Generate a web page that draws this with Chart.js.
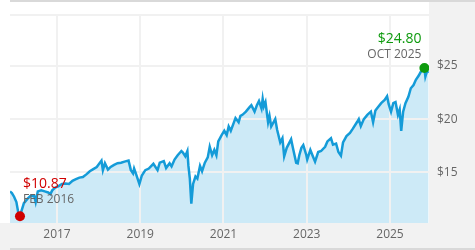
<!DOCTYPE html>
<html>
<head>
<meta charset="utf-8">
<script src="https://cdn.jsdelivr.net/npm/chart.js@4.4.1/dist/chart.umd.min.js"></script>
<style>
  html, body { margin: 0; padding: 0; background: #fff; }
  canvas { display: block; }
</style>
</head>
<body>
<canvas id="priceChart" width="475" height="250"></canvas>
<script>
const dates = [
    '2015-11-15', '2015-12-01', '2015-12-20', '2016-01-10', '2016-01-25', '2016-02-11', '2016-02-25',
    '2016-03-15', '2016-04-15', '2016-05-15', '2016-06-15', '2016-06-27', '2016-07-15', '2016-08-15',
    '2016-09-15', '2016-10-15', '2016-11-04', '2016-11-20', '2016-12-15',
    '2017-01-15', '2017-02-15', '2017-03-15', '2017-04-15', '2017-05-15', '2017-06-15', '2017-07-15',
    '2017-08-15', '2017-09-15', '2017-10-15', '2017-11-15', '2017-12-15',
    '2018-01-26', '2018-02-08', '2018-02-26', '2018-03-22', '2018-04-15', '2018-05-15', '2018-06-15',
    '2018-07-15', '2018-08-15', '2018-09-20', '2018-10-10', '2018-10-29', '2018-11-08', '2018-11-23',
    '2018-12-24',
    '2019-01-15', '2019-02-15', '2019-03-15', '2019-04-25', '2019-05-31', '2019-06-20', '2019-07-25',
    '2019-08-15', '2019-09-15', '2019-10-02', '2019-10-28', '2019-11-25', '2019-12-27',
    '2020-01-10', '2020-01-31', '2020-02-19', '2020-02-28', '2020-03-10', '2020-03-23', '2020-04-08',
    '2020-04-29', '2020-05-15', '2020-06-08', '2020-06-26', '2020-07-20', '2020-08-15', '2020-09-02',
    '2020-09-23', '2020-10-12', '2020-10-30', '2020-11-16', '2020-12-15',
    '2021-01-08', '2021-01-29', '2021-02-16', '2021-03-04', '2021-03-25', '2021-04-15', '2021-05-12',
    '2021-05-28', '2021-06-15', '2021-07-15', '2021-08-15', '2021-09-02', '2021-09-30', '2021-10-20',
    '2021-11-08', '2021-11-30', '2021-12-10', '2021-12-20',
    '2022-01-04', '2022-01-27', '2022-02-09', '2022-02-24', '2022-03-29', '2022-04-15', '2022-05-12',
    '2022-05-31', '2022-06-16', '2022-07-08', '2022-08-16', '2022-09-01', '2022-09-30', '2022-10-13',
    '2022-10-27', '2022-11-15', '2022-12-01', '2022-12-28',
    '2023-01-05', '2023-02-02', '2023-02-24', '2023-03-13', '2023-04-10', '2023-05-05', '2023-06-10',
    '2023-06-30', '2023-07-31', '2023-08-18', '2023-09-15', '2023-10-05', '2023-10-27', '2023-11-15',
    '2023-12-15',
    '2024-01-15', '2024-02-10', '2024-03-15', '2024-04-01', '2024-04-19', '2024-05-15', '2024-06-15',
    '2024-07-16', '2024-08-05', '2024-08-25', '2024-09-15', '2024-10-15', '2024-11-15', '2024-12-06',
    '2024-12-20',
    '2025-01-10', '2025-01-30', '2025-02-19', '2025-03-10', '2025-03-25', '2025-04-08', '2025-04-25',
    '2025-05-15', '2025-06-10', '2025-07-01', '2025-07-25', '2025-08-15', '2025-09-10', '2025-09-25',
    '2025-10-29', '2025-11-07', '2025-11-18', '2025-12-05'
];

const prices = [
    13.19, 13.05, 12.70, 12.20, 11.30, 10.87, 11.40,
    12.10, 12.50, 12.80, 12.75, 12.20, 13.20, 13.30,
    13.20, 13.10, 12.95, 13.30, 13.55,
    13.70, 13.90, 13.95, 13.90, 14.20, 14.35, 14.50,
    14.55, 14.80, 15.10, 15.30, 15.50,
    16.10, 15.20, 15.85, 15.25, 15.50, 15.70, 15.85,
    15.90, 16.00, 16.10, 15.20, 14.90, 15.35, 14.90,
    13.90,
    14.70, 15.20, 15.35, 15.80, 15.20, 15.90, 16.05,
    15.40, 15.85, 15.55, 16.20, 16.60, 17.00,
    16.85, 16.50, 17.00, 15.60, 14.40, 12.05, 13.90,
    14.60, 14.40, 15.60, 15.10, 15.90, 16.40, 17.40,
    16.60, 17.10, 16.60, 17.90, 18.50,
    18.90, 18.50, 19.30, 18.90, 19.50, 20.10, 19.70,
    20.30, 20.40, 20.70, 21.10, 21.30, 20.70, 21.30,
    21.70, 21.00, 21.90, 21.20,
    21.60, 19.70, 20.30, 19.30, 20.00, 19.00, 17.80,
    18.20, 16.50, 17.30, 18.10, 17.30, 15.90, 15.85,
    16.60, 17.30, 17.55, 16.60,
    16.20, 17.10, 16.50, 16.00, 16.90, 17.00, 17.40,
    17.90, 18.20, 17.60, 17.70, 16.90, 16.55, 17.80,
    18.40,
    18.70, 19.10, 19.70, 20.00, 19.35, 20.00, 20.40,
    20.70, 19.70, 20.80, 21.10, 21.50, 21.80, 22.15,
    21.40,
    20.70, 21.50, 21.60, 20.40, 20.90, 18.90, 20.70,
    21.50, 22.10, 22.90, 23.20, 23.70, 24.10, 24.40,
    24.80, 24.00, 24.40, 24.50
];

const extremeDates = ['2016-02-11', '2025-10-29'];
const extremePrices = [10.87, 24.80];
const extremeLabels = ['FEB 2016', 'OCT 2025'];

const xTicks = [2017, 2019, 2021, 2023, 2025];
const yTicks = [15, 20, 25];

const X_MIN = 2015.871;
const X_MAX = 2025.937;
const Y_MIN = 10.23;
const Y_MAX = 29.77;

const LINE_COLOR = '#149bd8';
const FILL_COLOR = '#cdeaf7';
const GRID_COLOR = '#f1f1f1';
const PANEL_COLOR = '#f2f2f2';
const BAR_COLOR = '#d9d9d9';
const TEXT_COLOR = '#666666';
const LOW_COLOR = '#d00000';
const HIGH_COLOR = '#0d9a0d';
const FONT = '"Open Sans", "Liberation Sans", sans-serif';

function toYear(str) {
    const [y, m, d] = str.split('-').map(Number);
    return y + (m - 1) / 12 + (d - 1) / 365;
}

const points = dates.map((d, i) => ({ x: toYear(d), y: prices[i] }));
const extremes = extremeDates.map((d, i) => ({ x: toYear(d), y: extremePrices[i] }));

// grey frame around the white plot
const framePlugin = {
    id: 'frame',
    beforeDraw(chart) {
        const { ctx, width, height, chartArea } = chart;
        ctx.save();
        ctx.fillStyle = '#ffffff';
        ctx.fillRect(0, 0, width, height);
        ctx.fillStyle = PANEL_COLOR;
        ctx.fillRect(chartArea.right, 0, width - chartArea.right, height);
        ctx.fillRect(0, chartArea.bottom, width, height - chartArea.bottom);
        ctx.fillStyle = BAR_COLOR;
        ctx.fillRect(chartArea.left, 0, width - chartArea.left, 2);
        ctx.fillRect(chartArea.left, height - 2, width - chartArea.left, 2);
        ctx.restore();
    }
};

// grid sits on top of the area fill but under the price line
const gridOverFill = {
    id: 'gridOverFill',
    beforeDatasetDraw(chart, args) {
        if (args.index !== 1) return;
        chart.scales.x.drawGrid(chart.chartArea);
        chart.scales.y.drawGrid(chart.chartArea);
    }
};

const extremeLabelsPlugin = {
    id: 'extremeLabels',
    afterDatasetsDraw(chart) {
        const { ctx } = chart;
        const meta = chart.getDatasetMeta(2);
        const low = meta.data[0];
        const high = meta.data[1];
        ctx.save();
        ctx.textBaseline = 'middle';

        ctx.textAlign = 'left';
        ctx.fillStyle = LOW_COLOR;
        ctx.font = `14px ${FONT}`;
        ctx.fillText('$' + extremePrices[0].toFixed(2), low.x + 3, low.y - 32);
        ctx.fillStyle = TEXT_COLOR;
        ctx.font = `12px ${FONT}`;
        ctx.fillText(extremeLabels[0], low.x + 3, low.y - 17);

        ctx.textAlign = 'right';
        ctx.fillStyle = HIGH_COLOR;
        ctx.font = `14px ${FONT}`;
        ctx.fillText('$' + extremePrices[1].toFixed(2), high.x - 3, high.y - 29);
        ctx.fillStyle = TEXT_COLOR;
        ctx.font = `12px ${FONT}`;
        ctx.fillText(extremeLabels[1], high.x - 3, high.y - 13);
        ctx.restore();
    }
};

new Chart(document.getElementById('priceChart').getContext('2d'), {
    type: 'line',
    data: {
        datasets: [
            {
                label: 'area',
                data: points,
                borderWidth: 0,
                pointRadius: 0,
                backgroundColor: FILL_COLOR,
                fill: 'start',
                tension: 0,
                order: 3
            },
            {
                label: 'price',
                data: points,
                borderColor: LINE_COLOR,
                borderWidth: 2.5,
                pointRadius: 0,
                fill: false,
                tension: 0,
                order: 2
            },
            {
                label: 'extremes',
                data: extremes,
                showLine: false,
                pointRadius: 5,
                pointBorderWidth: 0,
                pointBackgroundColor: [LOW_COLOR, HIGH_COLOR],
                order: 1
            }
        ]
    },
    options: {
        responsive: false,
        animation: false,
        devicePixelRatio: 1,
        layout: { padding: { left: 10, top: 10, right: 0, bottom: 0 } },
        plugins: {
            legend: { display: false },
            tooltip: { enabled: false }
        },
        scales: {
            x: {
                type: 'linear',
                min: X_MIN,
                max: X_MAX,
                afterBuildTicks(scale) { scale.ticks = xTicks.map(v => ({ value: v })); },
                afterFit(scale) { scale.height = 27; },
                border: { display: false },
                grid: { color: GRID_COLOR, lineWidth: 2, drawTicks: false },
                ticks: {
                    padding: 4,
                    color: TEXT_COLOR,
                    font: { family: FONT, size: 12 },
                    maxRotation: 0,
                    callback: v => String(v)
                }
            },
            y: {
                position: 'right',
                min: Y_MIN,
                max: Y_MAX,
                afterBuildTicks(scale) {
                    scale.ticks = yTicks.concat([Y_MAX]).map(v => ({ value: v }));
                },
                afterFit(scale) { scale.width = 46; },
                border: { display: false },
                grid: { color: GRID_COLOR, lineWidth: 2, drawTicks: false },
                ticks: {
                    padding: 8,
                    color: TEXT_COLOR,
                    font: { family: FONT, size: 12 },
                    callback: v => yTicks.includes(v) ? '$' + v : ''
                }
            }
        }
    },
    plugins: [framePlugin, gridOverFill, extremeLabelsPlugin]
});
</script>
</body>
</html>
